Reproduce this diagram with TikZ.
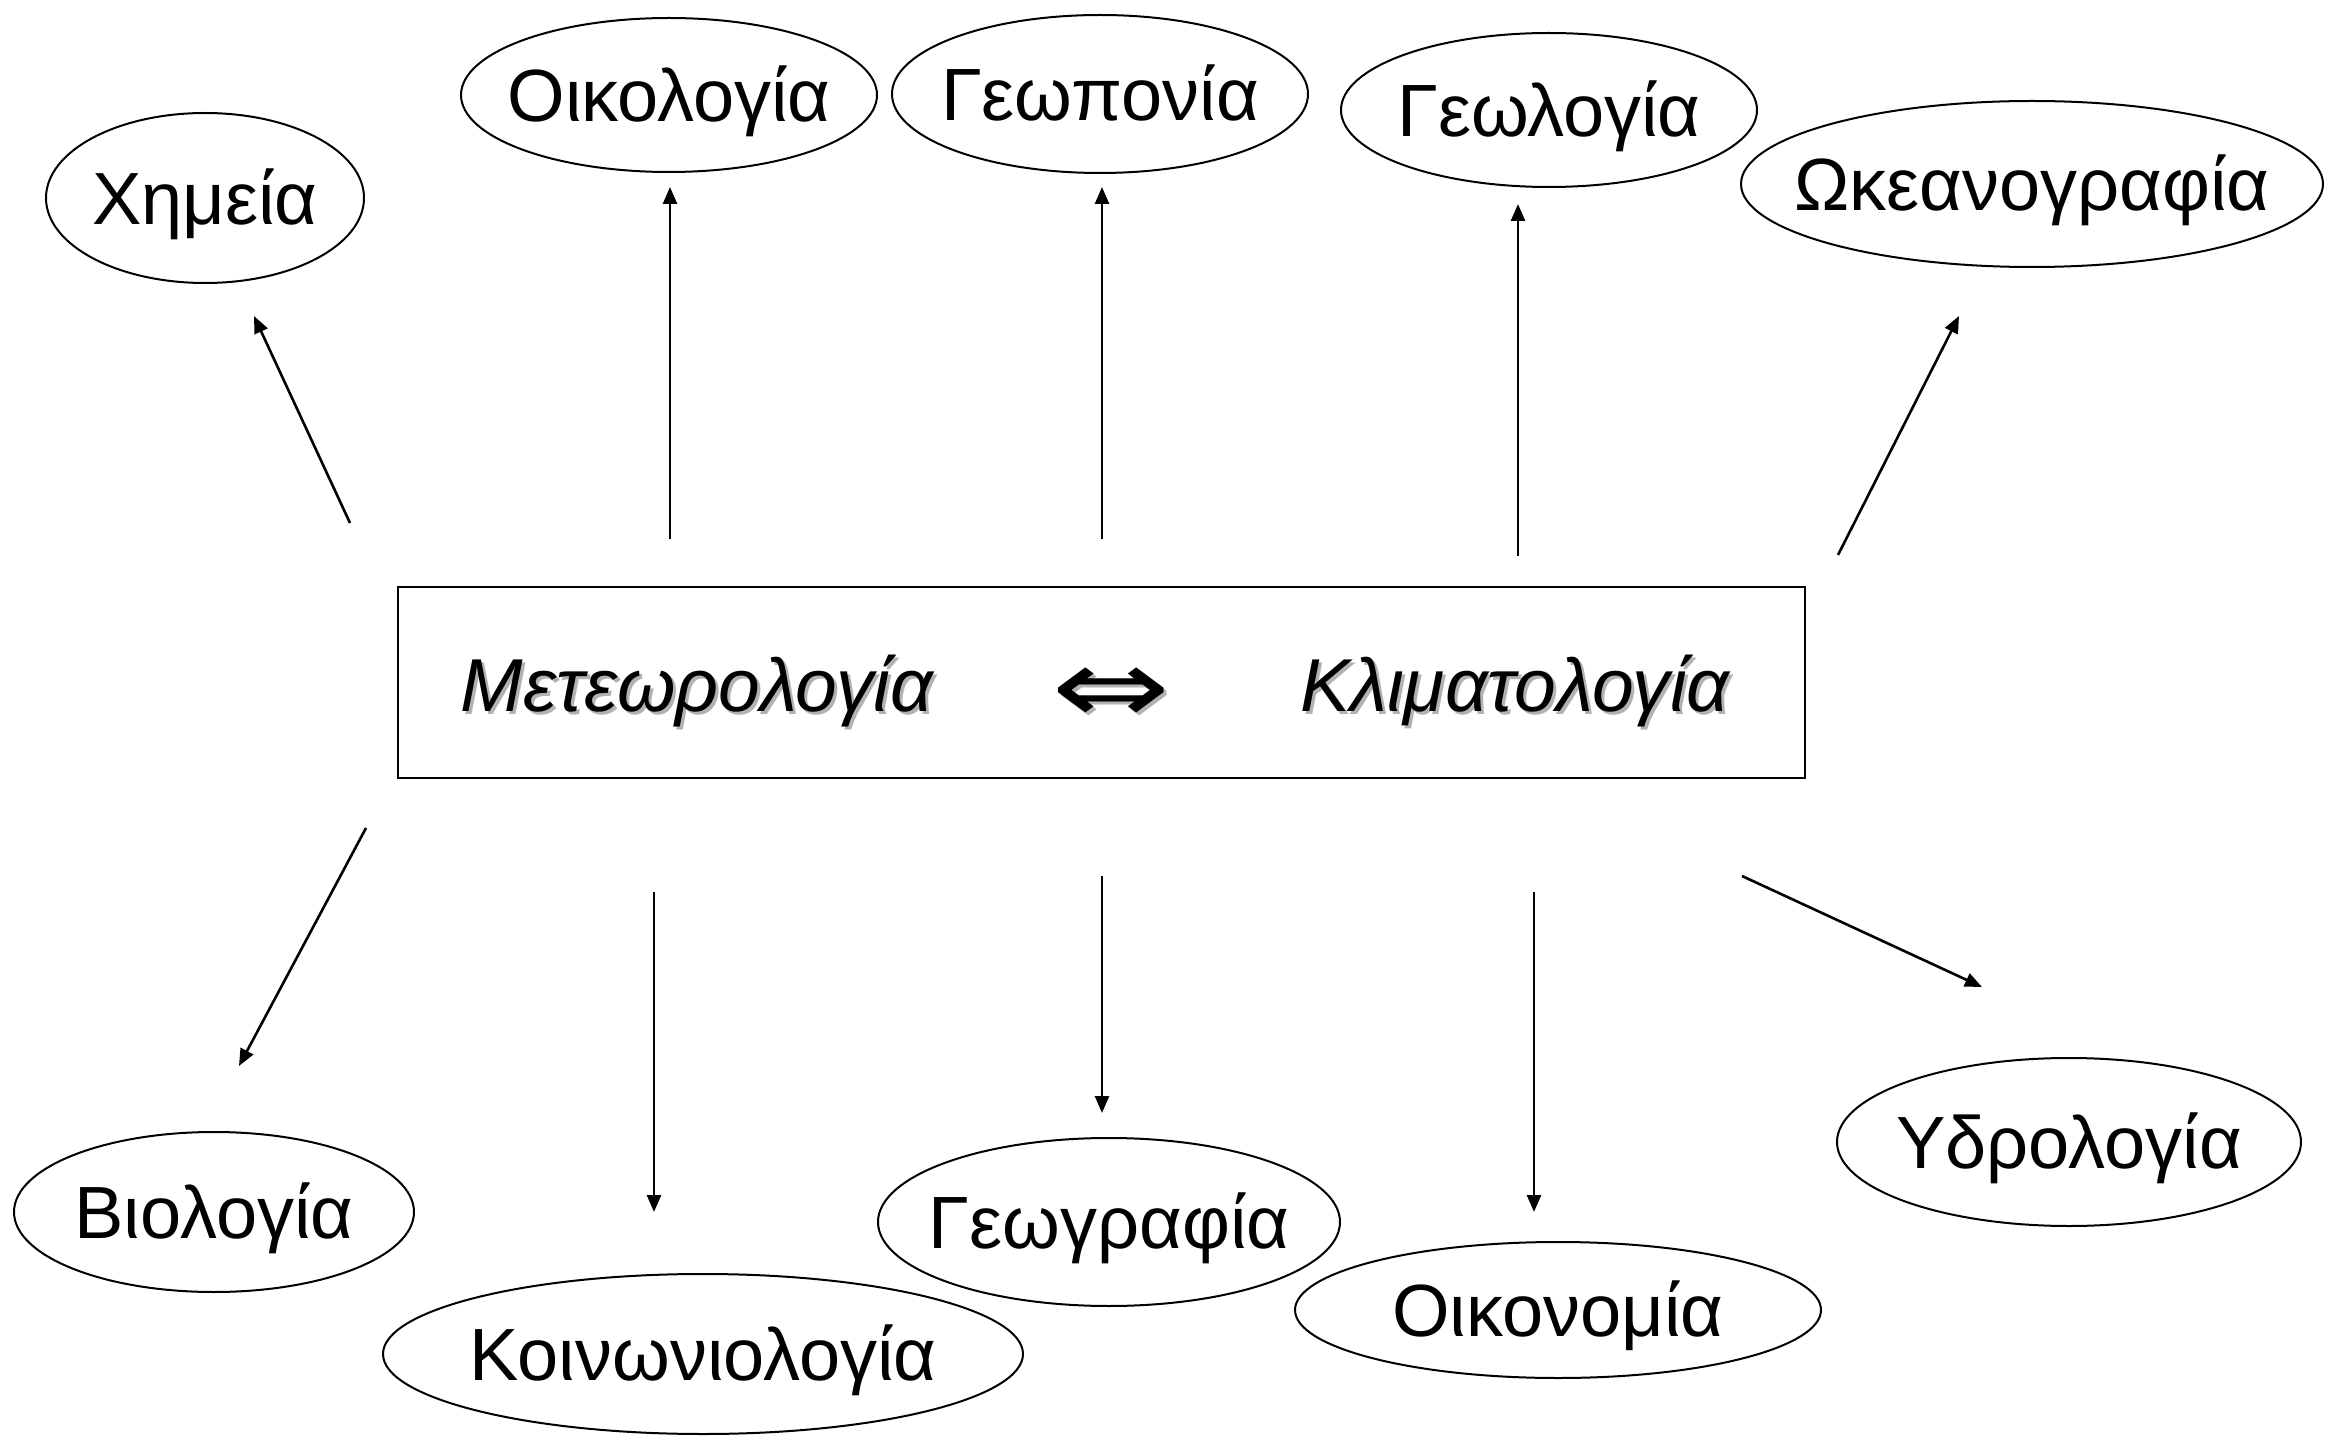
\documentclass[tikz,border=0pt]{standalone}
\usepackage{fontspec}
\setmainfont{Liberation Sans}
\newfontfamily\symfont{DejaVu Sans}
\usetikzlibrary{shapes.geometric,arrows.meta}

\begin{document}
\begin{tikzpicture}[x=0.5pt,y=-0.5pt,
  topic/.style={ellipse,draw,line width=1pt,inner xsep=-100pt,inner ysep=-20pt,
    text height=26.5pt,text depth=0pt,
    font=\fontsize{37}{40}\selectfont},
  corebox/.style={rectangle,draw,line width=1.4pt,inner sep=0pt},
  field/.style={inner sep=0pt,text height=26.8pt,text depth=0pt,
    font=\fontsize{37.5}{40}\selectfont\itshape},
  shade/.style={field,text=black!30},
  iffsym/.style={inner sep=0pt,font=\symfont\fontsize{44}{50}\selectfont},
  link/.style={line width=1.3pt,-{Triangle[length=8.5pt,width=7pt]}}]

\useasboundingbox (0,0) rectangle (2331,1444);

% central box
\node[corebox,minimum width=703.5pt,minimum height=95.5pt] (core) at (1101.5,682.5) {};
\node[shade] at (700,688) {Μετεωρολογία};
\node[field] (met) at (697,685) {Μετεωρολογία};
\node[shade] at (1518,688) {Κλιματολογία};
\node[field] (clim) at (1515,685) {Κλιματολογία};
\node[iffsym,text=black!30] at (1114,699) {\scalebox{1.62}[1.2]{⇔}};
\node[iffsym] (iff) at (1111,696) {\scalebox{1.62}[1.2]{⇔}};

% upper disciplines
\node[topic,minimum width=159pt,minimum height=85pt] (chem) at (205,198) {Χημεία};
\node[topic,minimum width=208pt,minimum height=77pt] (ecol) at (669,95) {Οικολογία};
\node[topic,minimum width=208pt,minimum height=79pt] (agri) at (1100,94) {Γεωπονία};
\node[topic,minimum width=208pt,minimum height=77pt] (geol) at (1549,110) {Γεωλογία};
\node[topic,minimum width=291pt,minimum height=83pt] (ocean) at (2032,184) {Ωκεανογραφία};

% lower disciplines
\node[topic,minimum width=200pt,minimum height=80pt] (bio) at (214,1212) {Βιολογία};
\node[topic,minimum width=320pt,minimum height=80pt] (soc) at (703,1354) {Κοινωνιολογία};
\node[topic,minimum width=231pt,minimum height=84pt] (geog) at (1109,1222) {Γεωγραφία};
\node[topic,minimum width=263pt,minimum height=68pt] (econ) at (1558,1310) {Οικονομία};
\node[topic,minimum width=232pt,minimum height=84pt] (hydro) at (2069,1142) {Υδρολογία};

% arrow end points
\coordinate (s1) at (350,523);  \coordinate (e1) at (254,316);
\coordinate (s2) at (670,539);  \coordinate (e2) at (670,187);
\coordinate (s3) at (1102,539); \coordinate (e3) at (1102,187);
\coordinate (s4) at (1518,556); \coordinate (e4) at (1518,204);
\coordinate (s5) at (1838,555); \coordinate (e5) at (1959,316);
\coordinate (s6) at (366,828);  \coordinate (e6) at (239,1066);
\coordinate (s7) at (654,892);  \coordinate (e7) at (654,1212);
\coordinate (s8) at (1102,876); \coordinate (e8) at (1102,1113);
\coordinate (s9) at (1534,892); \coordinate (e9) at (1534,1212);
\coordinate (s10) at (1742,876); \coordinate (e10) at (1982,987);

\foreach \i in {1,...,10} \draw[link] (s\i) -- (e\i);
\end{tikzpicture}
\end{document}
